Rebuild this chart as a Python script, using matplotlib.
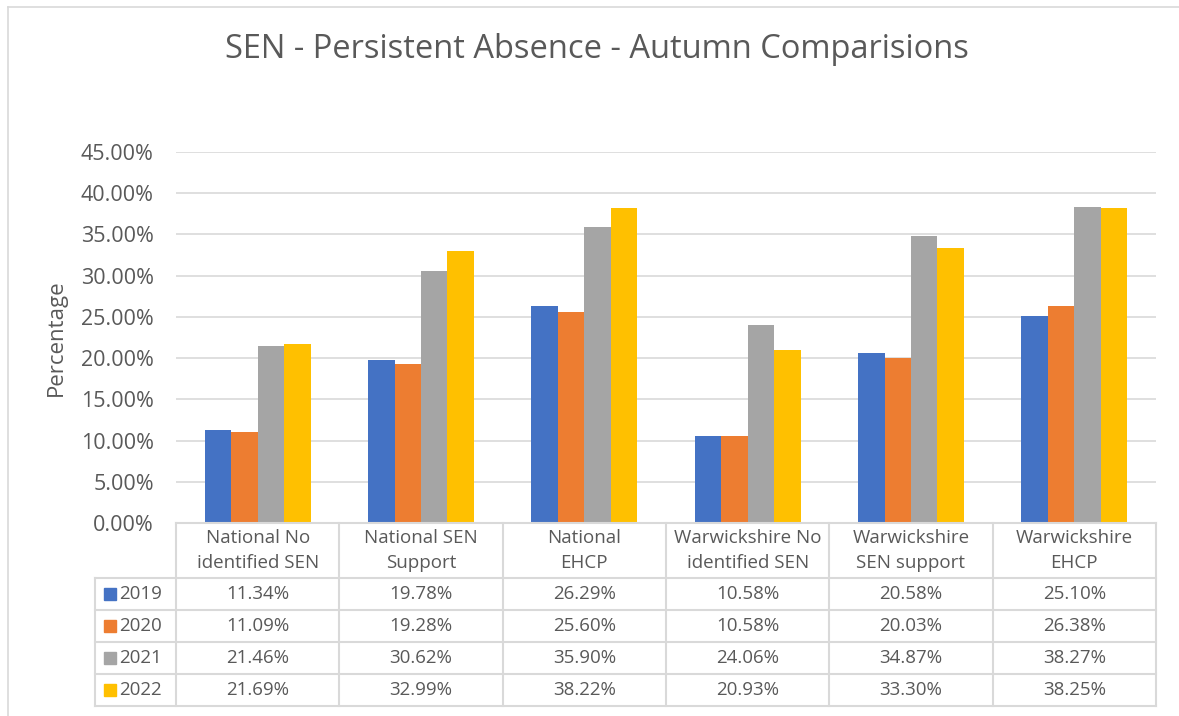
import numpy as np
import matplotlib.pyplot as plt
from matplotlib.lines import Line2D
from matplotlib.patches import Rectangle
import matplotlib.transforms as mtransforms

plt.rcParams['font.family'] = ['Open Sans', 'DejaVu Sans']

# data
categories = ['National No\nidentified SEN', 'National SEN\nSupport', 'National\nEHCP',
              'Warwickshire No\nidentified SEN', 'Warwickshire\nSEN support', 'Warwickshire\nEHCP']
years = ['2019', '2020', '2021', '2022']
v2019 = [11.34, 19.78, 26.29, 10.58, 20.58, 25.10]
v2020 = [11.09, 19.28, 25.60, 10.58, 20.03, 26.38]
v2021 = [21.46, 30.62, 35.90, 24.06, 34.87, 38.27]
v2022 = [21.69, 32.99, 38.22, 20.93, 33.30, 38.25]
series = [v2019, v2020, v2021, v2022]
colors = ['#4472C4', '#ED7D31', '#A5A5A5', '#FFC000']

W, H = 1179, 716
txt = '#595959'
grid = '#d9d9d9'

fig = plt.figure(figsize=(W / 100, H / 100), dpi=100)

def fx(px):
    return px / W

def fy(py):
    return 1 - py / H

# chart border (left/top visible)
fig.add_artist(Line2D([fx(8), fx(8)], [fy(7), fy(716)], color=grid, lw=1.2))
fig.add_artist(Line2D([fx(8), fx(1179)], [fy(7), fy(7)], color=grid, lw=1.2))

left, right, top, bottom = 176, 1156, 152, 523
ax = fig.add_axes([fx(left), fy(bottom), fx(right - left), (bottom - top) / H])

x = np.arange(len(categories))
bw = 0.162
for i, (vals, c) in enumerate(zip(series, colors)):
    ax.bar(x + (i - 1.5) * bw, vals, width=bw, color=c, zorder=3)

ax.set_xlim(-0.5, len(categories) - 0.5)
ax.set_ylim(0, 45)
ax.set_yticks(np.arange(0, 46, 5))
ax.set_yticklabels([f'{t:.2f}%' for t in np.arange(0, 46, 5)], fontsize=15.5, color=txt)
ax.tick_params(axis='y', length=0, pad=16)
ax.set_xticks([])
ax.yaxis.grid(True, color=grid, lw=1.2, zorder=0)
for s in ax.spines.values():
    s.set_visible(False)
ax.set_ylabel('Percentage', fontsize=16, color=txt, labelpad=10)

# title
fig.text(fx(597), fy(50), 'SEN - Persistent Absence - Autumn Comparisions',
         ha='center', va='center', fontsize=23.5, color=txt)

# data table below the axis
bt = mtransforms.blended_transform_factory(ax.transData, fig.transFigure)
row_y = [523, 578, 610, 642, 674, 706]
tl = 95
# horizontal lines
fig.add_artist(Line2D([fx(left), fx(right)], [fy(row_y[0])] * 2, color=grid, lw=1.5))
for ry in row_y[1:]:
    fig.add_artist(Line2D([fx(tl), fx(right)], [fy(ry)] * 2, color=grid, lw=1.5))
# vertical lines
fig.add_artist(Line2D([fx(tl), fx(tl)], [fy(row_y[1]), fy(row_y[-1])], color=grid, lw=1.5))
for b in np.arange(-0.5, len(categories), 1.0):
    ax.add_line(Line2D([b, b], [fy(row_y[0]), fy(row_y[-1])], transform=bt,
                       color=grid, lw=1.5, clip_on=False))

for j, cat in enumerate(categories):
    ax.text(j, fy((row_y[0] + row_y[1]) / 2), cat, transform=bt, ha='center', va='center',
            fontsize=13.5, color=txt, linespacing=1.45)
    for r, vals in enumerate(series):
        ax.text(j, fy((row_y[r + 1] + row_y[r + 2]) / 2), f'{vals[j]:.2f}%', transform=bt,
                ha='center', va='center', fontsize=13.5, color=txt)

for r, (yr, c) in enumerate(zip(years, colors)):
    cy = (row_y[r + 1] + row_y[r + 2]) / 2
    fig.add_artist(Rectangle((fx(104), fy(cy + 6)), fx(12), 12 / H, color=c))
    fig.text(fx(119), fy(cy), yr, ha='left', va='center', fontsize=13.5, color=txt)

fig.savefig('out.png', dpi=100)
